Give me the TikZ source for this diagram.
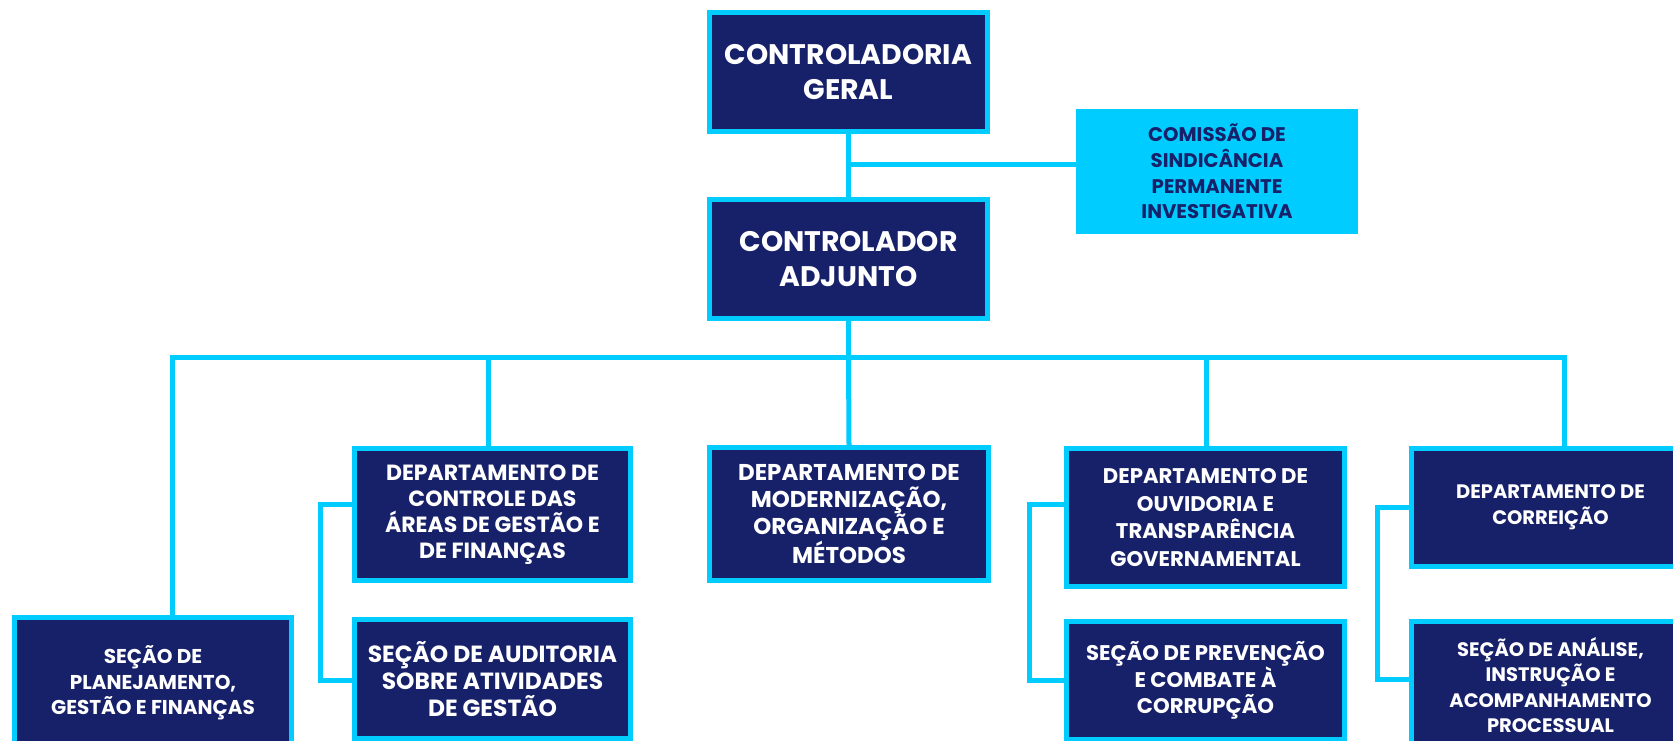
\documentclass[tikz,border=0pt]{standalone}
\usepackage{fontspec}
\setmainfont{Poppins}
\definecolor{navy}{RGB}{23,33,106}
\definecolor{cy}{RGB}{0,204,255}
\newcommand{\fsz}[2]{\bfseries\fontsize{#1}{#2}\selectfont}
\begin{document}
\begin{tikzpicture}[x=1pt,y=-1pt,
  box/.style={draw=cy, fill=navy, line width=5pt, text=white, align=center, inner sep=0pt},
  lightbox/.style={draw=cy, fill=cy, line width=5pt, text=navy, align=center, inner sep=0pt},
  conn/.style={draw=cy, line width=5pt, line join=miter, line cap=butt}]
\clip (0,0) rectangle (1673,741);
\fill[white] (0,0) rectangle (1673,741);

% boxes
\node[box, minimum width=278pt, minimum height=119pt, font=\fsz{28.3}{35}] (cg) at (848.5,72) {CONTROLADORIA\\GERAL};
\node[box, minimum width=278pt, minimum height=119pt, font=\fsz{28.3}{35}] (ca) at (848.5,259) {CONTROLADOR\\ADJUNTO};
\node[lightbox, minimum width=277pt, minimum height=120pt, font=\fsz{19.7}{25.7}] (com) at (1217,171.5) {COMISSÃO DE\\SINDICÂNCIA\\PERMANENTE\\INVESTIGATIVA};

\node[box, minimum width=276pt, minimum height=132pt, font=\fsz{22}{26}] (ctrl) at (492.5,514.5) {DEPARTAMENTO DE\\CONTROLE DAS\\ÁREAS DE GESTÃO E\\DE FINANÇAS};
\node[box, minimum width=279pt, minimum height=133pt, font=\fsz{22.9}{27}] (mod) at (849,514) {DEPARTAMENTO DE\\MODERNIZAÇÃO,\\ORGANIZAÇÃO E\\MÉTODOS};
\node[box, minimum width=278pt, minimum height=138pt, font=\fsz{21.2}{27.8}] (ouv) at (1205.5,517.5) {DEPARTAMENTO DE\\OUVIDORIA E\\TRANSPARÊNCIA\\GOVERNAMENTAL};
\node[box, minimum width=278pt, minimum height=118pt, font=\fsz{19.5}{26}] (cor) at (1550.5,507.5) {DEPARTAMENTO DE\\CORREIÇÃO};

\node[box, minimum width=277pt, minimum height=131pt, font=\fsz{20}{25.5}] (plan) at (153,683) {SEÇÃO DE\\PLANEJAMENTO,\\GESTÃO E FINANÇAS};
\node[box, minimum width=276pt, minimum height=119pt, font=\fsz{23.4}{26.7}] (aud) at (492.5,679) {SEÇÃO DE AUDITORIA\\SOBRE ATIVIDADES\\DE GESTÃO};
\node[box, minimum width=278pt, minimum height=118pt, font=\fsz{21.2}{26.7}] (prev) at (1205.5,680.5) {SEÇÃO DE PREVENÇÃO\\E COMBATE À\\CORRUPÇÃO};
\node[box, minimum width=278pt, minimum height=127pt, font=\fsz{19.5}{25.5}] (ana) at (1550.5,685) {SEÇÃO DE ANÁLISE,\\INSTRUÇÃO E\\ACOMPANHAMENTO\\PROCESSUAL};

% connectors
\coordinate (cj) at (848.5,164);
\coordinate (bus) at (848.5,357);
\coordinate (bl) at (172,357);
\coordinate (br) at (1564,357);
\coordinate (d2) at (488,357);
\coordinate (d4) at (1206,357);
\coordinate (s1) at (320,504);
\coordinate (s1b) at (320,680);
\coordinate (s2) at (1029,504);
\coordinate (s2b) at (1029,680);
\coordinate (s3) at (1377,507);
\coordinate (s3b) at (1377,679);

\draw[conn] (cg.south) -- (ca.north);
\draw[conn] (cj) -- (cj -| com.west);
\draw[conn] (ca.south) -- (bus);
\draw[conn] (bl |- plan.north) -- (bl) -- (br) -- (br |- cor.north);
\draw[conn] (d2) -- (d2 |- ctrl.north);
\draw[conn] (bus) -- (mod.north);
\draw[conn] (d4) -- (d4 |- ouv.north);
\draw[conn] (s1 -| ctrl.west) -- (s1) -- (s1b) -- (s1b -| aud.west);
\draw[conn] (s2 -| ouv.west) -- (s2) -- (s2b) -- (s2b -| prev.west);
\draw[conn] (s3 -| cor.west) -- (s3) -- (s3b) -- (s3b -| ana.west);
\end{tikzpicture}
\end{document}
